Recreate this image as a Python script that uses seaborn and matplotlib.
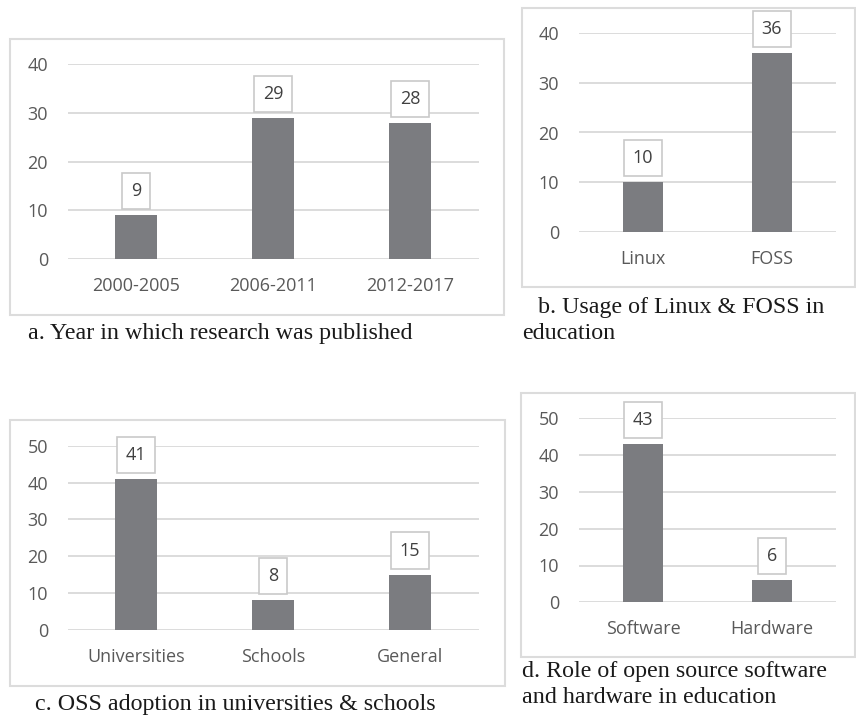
import matplotlib
matplotlib.use("Agg")
import matplotlib.pyplot as plt
from matplotlib.patches import Rectangle
import seaborn as sns
import pandas as pd

# Survey counts shown in the four bar panels
periods = ["2000-2005", "2006-2011", "2012-2017"]
period_counts = [9, 29, 28]

systems = ["Linux", "FOSS"]
system_counts = [10, 36]

settings = ["Universities", "Schools", "General"]
setting_counts = [41, 8, 15]

kinds = ["Software", "Hardware"]
kind_counts = [43, 6]

captions = {
    "a": ["a. Year in which research was published"],
    "b": ["b. Usage of Linux & FOSS in", "education"],
    "c": ["c. OSS adoption in universities & schools"],
    "d": ["d. Role of open source software", "and hardware in education"],
}

sns.set_style("white")
plt.rcParams["font.family"] = ["Open Sans", "DejaVu Sans"]

BAR = "#7b7c80"
GRID = "#d9d9d9"
TICK = "#595959"
LABEL = "#404040"
FRAME = "#dcdcdc"

W, H = 856, 715
fig = plt.figure(figsize=(W / 100, H / 100), dpi=100)
fig.patch.set_facecolor("white")


def frame(x0, y0, x1, y1):
    fig.add_artist(Rectangle((x0 / W, 1 - y1 / H), (x1 - x0) / W, (y1 - y0) / H,
                             transform=fig.transFigure, fill=False,
                             ec=FRAME, lw=1.5, zorder=0))


def panel(x0, x1, ytop, ybot, cats, vals, ymax):
    ax = fig.add_axes([x0 / W, 1 - ybot / H, (x1 - x0) / W, (ybot - ytop) / H])
    df = pd.DataFrame({"cat": cats, "val": vals})
    sns.barplot(data=df, x="cat", y="val", color=BAR, saturation=1,
                width=0.31, linewidth=0, ax=ax)
    ax.set_ylim(0, ymax)
    ax.set_yticks(range(0, ymax + 1, 10))
    ax.set_xlim(-0.5, len(cats) - 0.5)
    ax.set_xlabel("")
    ax.set_ylabel("")
    ax.set_facecolor("none")
    for s in ax.spines.values():
        s.set_visible(False)
    ax.set_axisbelow(True)
    ax.yaxis.grid(True, color=GRID, lw=1.3)
    ax.xaxis.grid(False)
    ax.tick_params(axis="y", length=0, pad=14, labelsize=13, labelcolor=TICK)
    ax.tick_params(axis="x", length=0, pad=13, labelsize=13, labelcolor=TICK)
    for bar, v in zip(ax.patches, vals):
        ax.annotate(f"{v}", (bar.get_x() + bar.get_width() / 2, v),
                    xytext=(0, 24), textcoords="offset pixels",
                    ha="center", va="center", fontsize=13, color=LABEL,
                    bbox=dict(boxstyle="square,pad=0.5", fc="white",
                              ec="#c9c9c9", lw=1.2),
                    annotation_clip=False, zorder=5)
    return ax


def caption(x, y, text):
    fig.text(x / W, 1 - y / H, text, ha="left", va="baseline",
             fontsize=17.3, color="#1a1a1a",
             family=["Liberation Serif", "DejaVu Serif"])


# a
frame(10, 39, 504, 315)
panel(67.5, 478.5, 64.3, 259, periods, period_counts, 40)
caption(28, 339, captions["a"][0])

# b
frame(522, 8, 855, 287)
panel(578.5, 836.5, 33.3, 231.7, systems, system_counts, 40)
caption(538, 313, captions["b"][0])
caption(522, 339, captions["b"][1])

# c
frame(10, 420, 505, 686)
panel(67.5, 478.5, 445.7, 629.7, settings, setting_counts, 50)
caption(35, 710, captions["c"][0])

# d
frame(521, 393, 855, 657)
panel(578.5, 836.5, 418.3, 602.3, kinds, kind_counts, 50)
caption(522, 677, captions["d"][0])
caption(522, 703, captions["d"][1])

fig.savefig("out.png", dpi=100, facecolor="white")
